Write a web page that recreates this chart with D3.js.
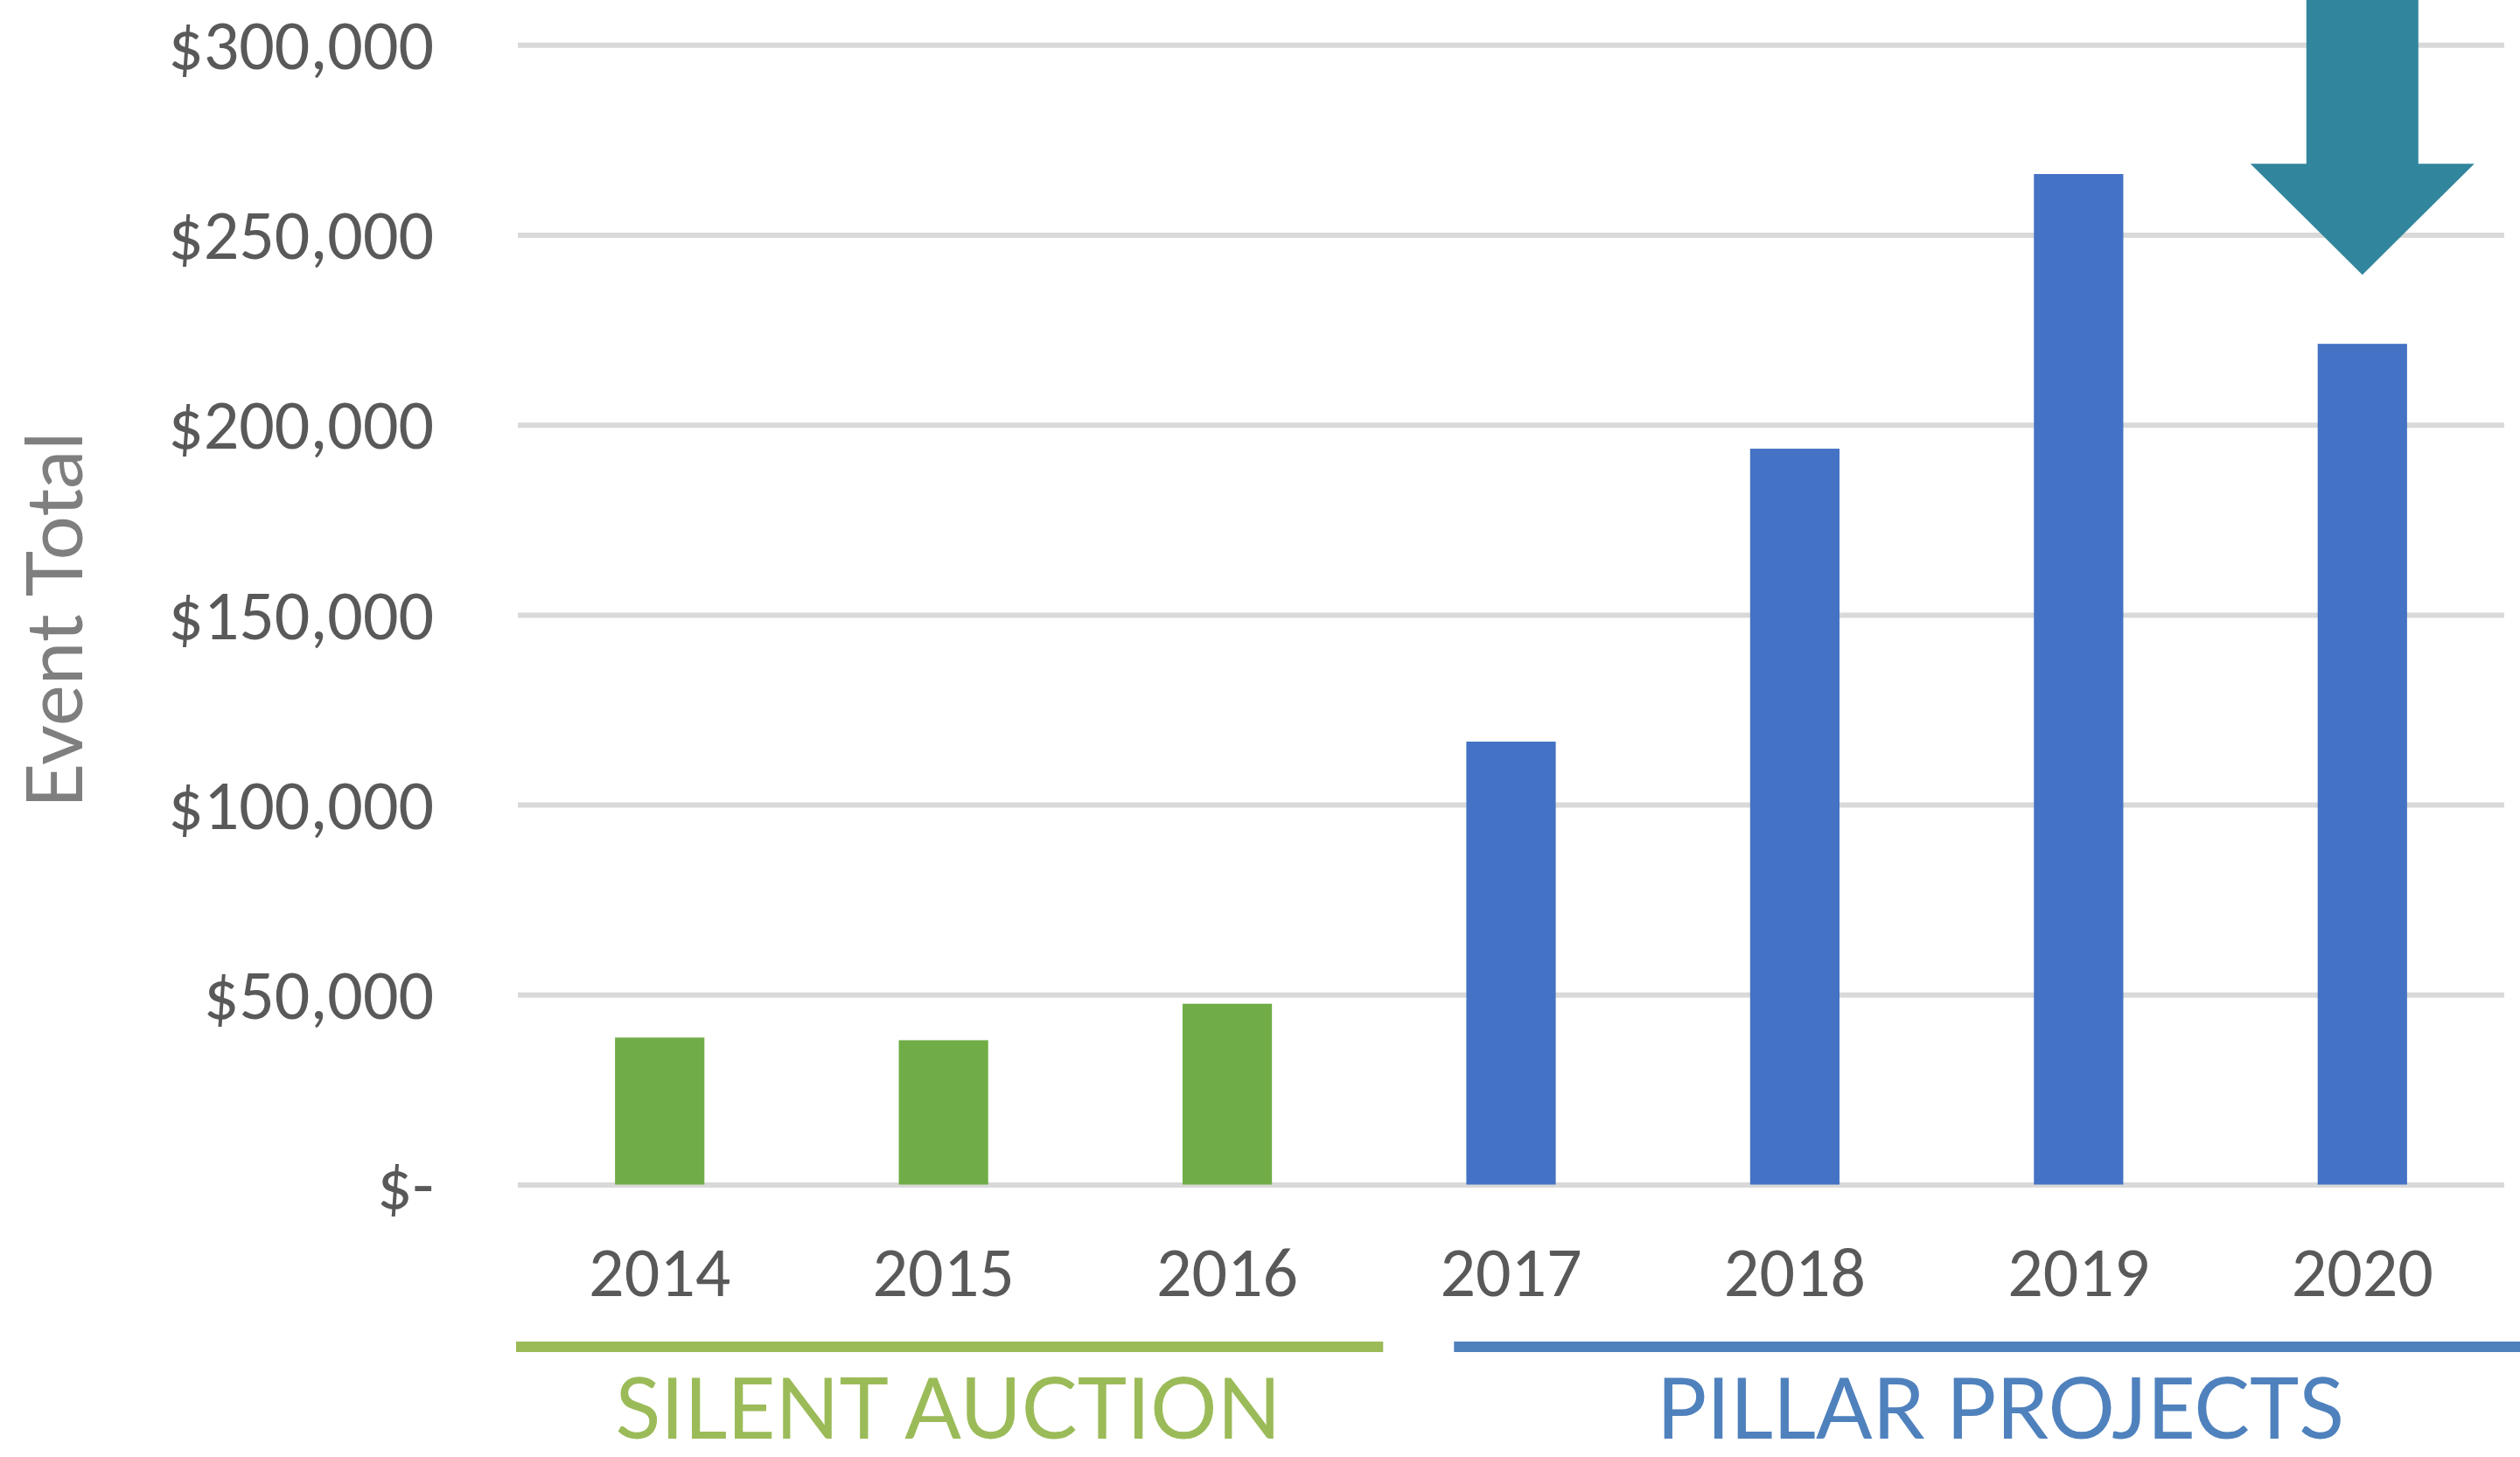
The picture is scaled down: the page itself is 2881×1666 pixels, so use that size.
<!DOCTYPE html>
<html>
<head>
<meta charset="utf-8">
<script src="https://cdn.jsdelivr.net/npm/d3@7"></script>
<style>
  body { margin: 0; background: #fff; }
  svg { display: block; }
  .tick-label { font-family: Carlito, Calibri, Lato, sans-serif; fill: #595959; }
</style>
</head>
<body>
<svg id="chart" width="2881" height="1666"></svg>
<script>
// chart data
var years = ["2014", "2015", "2016", "2017", "2018", "2019", "2020"];
var totals = [38700, 38000, 47600, 116600, 193700, 266000, 221300];
var yTicks = [0, 50000, 100000, 150000, 200000, 250000, 300000];

// which years belong to which event format
var groupNames = ["SILENT AUCTION", "PILLAR PROJECTS"];
var groupFirst = ["2014", "2017"];
var groupLast = ["2016", "2020"];
var groupColors = ["#9bbb59", "#4f81bd"];
var barColors = ["#70ad47", "#70ad47", "#70ad47", "#4472c4", "#4472c4", "#4472c4", "#4472c4"];

var arrowYear = "2020";

function main()
{
  var svg = d3.select("#chart");

  // plot area in pixels
  var left = 592, right = 2863, bottom = 1354.5, top = 51.3;

  var x = d3.scaleBand()
    .domain(years)
    .range([left, right])
    .paddingInner(0.685)
    .paddingOuter(0.3425);

  var y = d3.scaleLinear()
    .domain([0, 300000])
    .range([bottom, top]);

  // format like Excel's accounting style: "$-" for zero
  var fmt = function (v) { return v === 0 ? "$-" : "$" + d3.format(",")(v); };

  // horizontal gridlines + y labels
  var yAxis = svg.append("g")
    .attr("transform", "translate(" + left + ",0)")
    .call(d3.axisLeft(y)
      .tickValues(yTicks)
      .tickSize(-(right - left))
      .tickPadding(96)
      .tickFormat(fmt));
  yAxis.select(".domain").remove();
  yAxis.selectAll(".tick line")
    .attr("stroke", "#d9d9d9")
    .attr("stroke-width", 6);
  yAxis.selectAll(".tick text")
    .attr("class", "tick-label")
    .attr("font-size", 80)
    .attr("dy", "0.34em");

  // bars
  svg.append("g")
    .selectAll("rect")
    .data(years)
    .enter()
    .append("rect")
    .attr("x", function (d) { return x(d); })
    .attr("width", x.bandwidth())
    .attr("y", function (d, i) { return y(totals[i]); })
    .attr("height", function (d, i) { return y(0) - y(totals[i]); })
    .attr("fill", function (d, i) { return barColors[i]; });

  // year labels under the bars
  var xAxis = svg.append("g")
    .attr("transform", "translate(0," + bottom + ")")
    .call(d3.axisBottom(x).tickSize(0).tickPadding(0));
  xAxis.select(".domain").remove();
  xAxis.selectAll(".tick text")
    .attr("class", "tick-label")
    .attr("font-size", 80)
    .attr("y", 127)
    .attr("dy", 0);

  // y axis title
  svg.append("text")
    .attr("transform", "translate(94," + ((500 + 918) / 2) + ") rotate(-90)")
    .attr("text-anchor", "middle")
    .attr("font-family", "Lato, sans-serif")
    .attr("font-size", 89)
    .attr("fill", "#7f7f7f")
    .text("Event Total");

  // group underline + caption
  var step = x.step();
  var lineStart = [left - 2, x(groupFirst[1]) - x.paddingOuter() * step + 97];
  var lineEnd = [x(groupLast[0]) + x.bandwidth() + x.paddingOuter() * step + 16, 2895];
  var textCenter = [1084, 2287];
  var textWidth = [761, 786];

  groupNames.forEach(function (name, i) {
    svg.append("rect")
      .attr("x", lineStart[i])
      .attr("y", 1534)
      .attr("width", lineEnd[i] - lineStart[i])
      .attr("height", 12)
      .attr("fill", groupColors[i]);

    svg.append("text")
      .attr("x", textCenter[i])
      .attr("y", 1645)
      .attr("text-anchor", "middle")
      .attr("font-family", "Lato, sans-serif")
      .attr("font-size", 96)
      .attr("textLength", textWidth[i])
      .attr("lengthAdjust", "spacingAndGlyphs")
      .attr("fill", groupColors[i])
      .text(name);
  });

  // down arrow pointing at the 2020 bar
  var ai = years.indexOf(arrowYear);
  var cx = x(arrowYear) + x.bandwidth() / 2;
  var tip = y(totals[ai]) - 79;
  var headTop = tip - 127;
  var shaftHalf = 64, headHalf = 128;
  var pts = [
    [cx - shaftHalf, -10],
    [cx + shaftHalf, -10],
    [cx + shaftHalf, headTop],
    [cx + headHalf, headTop],
    [cx, tip],
    [cx - headHalf, headTop],
    [cx - shaftHalf, headTop]
  ];
  svg.append("path")
    .attr("d", d3.line()(pts) + "Z")
    .attr("fill", "#31869d");
}

main();
</script>
</body>
</html>
